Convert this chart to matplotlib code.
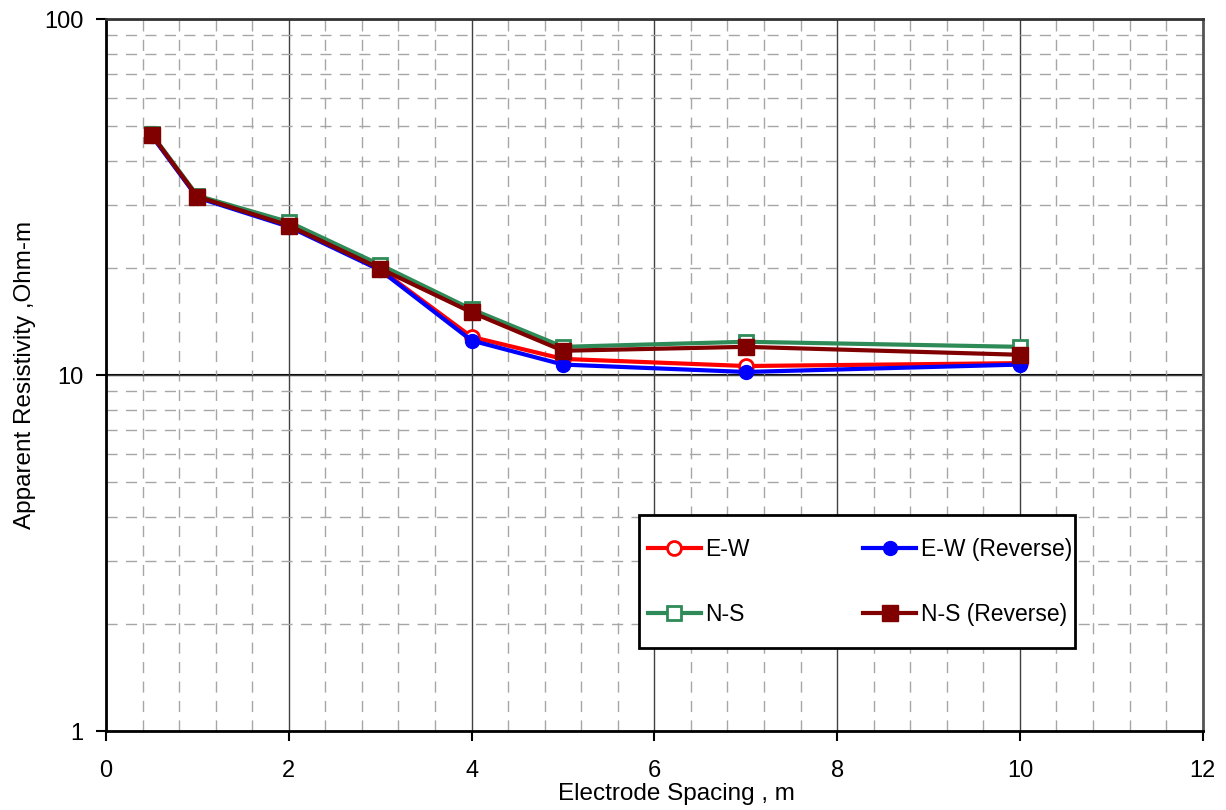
import matplotlib
matplotlib.use('Agg')
import matplotlib.pyplot as plt
import matplotlib.patches as mpatches
from matplotlib.ticker import FixedLocator, NullFormatter, MultipleLocator

plt.rcParams['font.family'] = ['Liberation Sans', 'DejaVu Sans']

# electrode spacing (m)
SPACING = [0.5, 1, 2, 3, 4, 5, 7, 10]

# apparent resistivity (Ohm-m)
RHO_EW = [47.2, 31.6, 26.3, 19.8, 12.8, 11.1, 10.6, 10.8]
RHO_EW_REV = [47.0, 31.5, 26.1, 19.7, 12.5, 10.7, 10.2, 10.7]
RHO_NS = [47.5, 31.9, 26.9, 20.4, 15.3, 12.0, 12.4, 12.0]
RHO_NS_REV = [47.3, 31.7, 26.3, 19.9, 15.0, 11.7, 12.0, 11.4]

LABELS = ['E-W', 'E-W (Reverse)', 'N-S', 'N-S (Reverse)']

W, H = 1226, 810
fig = plt.figure(figsize=(W / 100, H / 100), dpi=100)
ax = fig.add_axes([0.0865, 0.0975, 0.8945, 0.879])

ax.set_yscale('log')
ax.set_xlim(0, 12)
ax.set_ylim(1, 100)

# grid: solid majors, dashed minors
ax.xaxis.set_major_locator(MultipleLocator(2))
ax.xaxis.set_minor_locator(MultipleLocator(0.4))
ax.yaxis.set_major_locator(FixedLocator([1, 10, 100]))
ax.yaxis.set_minor_locator(FixedLocator([m * d for d in (1, 10) for m in range(2, 10)]))
ax.yaxis.set_minor_formatter(NullFormatter())
ax.set_yticklabels(['1', '10', '100'])

ax.grid(which='major', color='#404040', linewidth=1.0, linestyle='-', zorder=0)
ax.grid(which='minor', color='#a6a6a6', linewidth=1.0, linestyle=(0, (8, 6)), zorder=0)
ax.axhline(10, color='black', linewidth=1.5, zorder=1)

ax.tick_params(which='major', direction='out', length=7, width=1.5, labelsize=17)
ax.tick_params(axis='x', which='major', pad=14)
ax.tick_params(axis='y', which='major', pad=9)
ax.tick_params(which='minor', length=0)

for side in ['left', 'bottom']:
    ax.spines[side].set_linewidth(2)
    ax.spines[side].set_color('black')
ax.spines['top'].set_linewidth(2)
ax.spines['top'].set_color('#333333')
ax.spines['right'].set_linewidth(2)
ax.spines['right'].set_color('#555555')

l_ew, = ax.plot(SPACING, RHO_EW, color='red', linewidth=3, marker='o', markersize=10,
                markerfacecolor='white', markeredgecolor='red', markeredgewidth=2, zorder=3)
l_ewr, = ax.plot(SPACING, RHO_EW_REV, color='blue', linewidth=3, marker='o', markersize=10,
                 markerfacecolor='blue', markeredgecolor='blue', zorder=3)
l_ns, = ax.plot(SPACING, RHO_NS, color='#2e8b57', linewidth=3, marker='s', markersize=10,
                markerfacecolor='white', markeredgecolor='#2e8b57', markeredgewidth=2, zorder=3)
l_nsr, = ax.plot(SPACING, RHO_NS_REV, color='#800000', linewidth=3, marker='s', markersize=11,
                 markerfacecolor='#800000', markeredgecolor='#800000', zorder=4)

ax.set_xlabel('Electrode Spacing , m', fontsize=17.5)
ax.xaxis.set_label_coords(0.52, -0.073)
ax.set_ylabel('Apparent Resistivity ,Ohm-m', fontsize=17.5, labelpad=6)

# legend box drawn separately so its padding can match the reference
box = mpatches.Rectangle((639 / W, 1 - 648 / H), 436 / W, 133 / H, transform=fig.transFigure,
                         facecolor='white', edgecolor='black', linewidth=2, zorder=4.5, clip_on=False)
ax.add_patch(box)

# legend fills column-wise, so order gives rows E-W / N-S
leg = ax.legend([l_ew, l_ns, l_ewr, l_nsr], [LABELS[0], LABELS[2], LABELS[1], LABELS[3]],
                loc='upper left', bbox_to_anchor=(648 / W, 1 - 538 / H),
                bbox_transform=fig.transFigure, ncol=2, fontsize=16.5,
                frameon=False, borderaxespad=0, borderpad=0, handlelength=2.3,
                handletextpad=0.2, labelspacing=1.85, columnspacing=4.95)
leg.set_zorder(6)

plt.savefig('out.png', dpi=100)
